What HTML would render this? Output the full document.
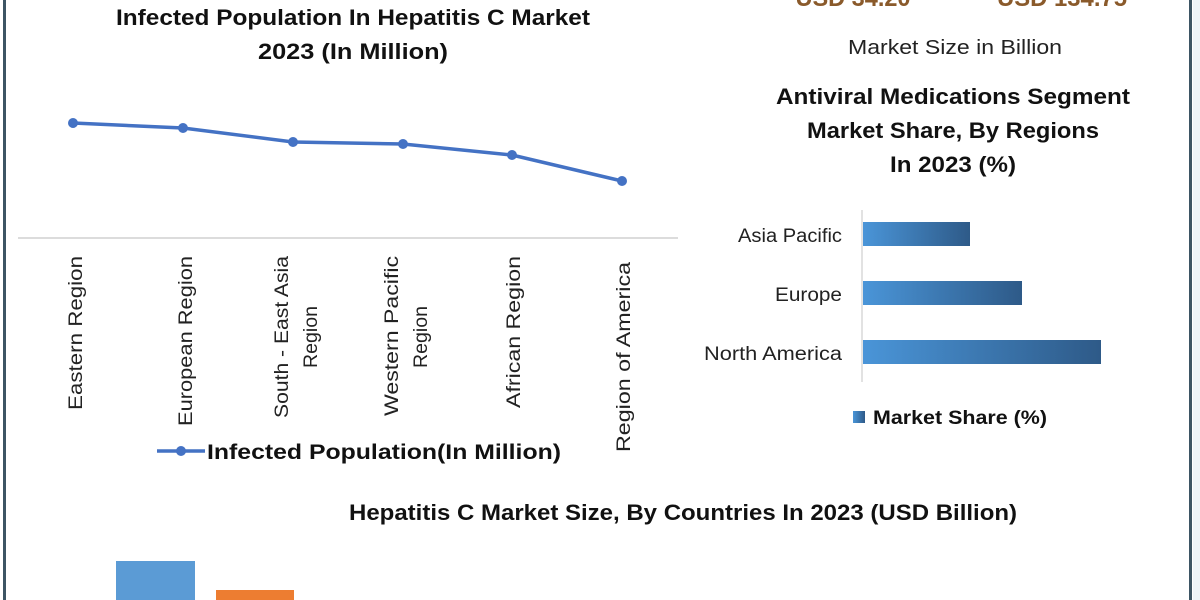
<!DOCTYPE html>
<html><head><meta charset="utf-8"><style>
html,body{margin:0;padding:0;background:#fff;}
svg{display:block;}
text{font-family:"Liberation Sans",sans-serif;}
</style></head><body>
<svg width="1200" height="600" viewBox="0 0 1200 600" xmlns="http://www.w3.org/2000/svg">
<defs>
<linearGradient id="bg" x1="0" x2="1" y1="0" y2="0">
<stop offset="0" stop-color="#4a95d8"/><stop offset="1" stop-color="#2e5a88"/>
</linearGradient>
</defs>
<rect width="1200" height="600" fill="#fff"/>
<rect x="1193" y="0" width="7" height="600" fill="#eef4f8"/>
<rect x="3" y="0" width="3" height="600" fill="#3d5564"/>
<rect x="1189" y="0" width="3" height="600" fill="#3d5564"/>

<g lengthAdjust="spacingAndGlyphs">
<text x="853" y="6" font-size="24" font-weight="bold" fill="#8a5a2b" text-anchor="middle" textLength="115" lengthAdjust="spacingAndGlyphs">USD 34.20</text>
<text x="1062" y="6" font-size="24" font-weight="bold" fill="#8a5a2b" text-anchor="middle" textLength="130" lengthAdjust="spacingAndGlyphs">USD 134.75</text>
<text x="955" y="54" font-size="20" fill="#222" text-anchor="middle" textLength="214" lengthAdjust="spacingAndGlyphs">Market Size in Billion</text>

<text x="353" y="25" font-size="22" font-weight="bold" fill="#111" text-anchor="middle" textLength="474" lengthAdjust="spacingAndGlyphs">Infected Population In Hepatitis C Market</text>
<text x="353" y="59" font-size="22" font-weight="bold" fill="#111" text-anchor="middle" textLength="190" lengthAdjust="spacingAndGlyphs">2023 (In Million)</text>
</g>
<line x1="18" y1="238" x2="678" y2="238" stroke="#d0d0d0" stroke-width="1.5"/>
<polyline points="73,123 183,128 293,142 403,144 512,155 622,181" fill="none" stroke="#4472c4" stroke-width="3.5"/>
<g fill="#4472c4">
<circle cx="73" cy="123" r="5"/><circle cx="183" cy="128" r="5"/><circle cx="293" cy="142" r="5"/>
<circle cx="403" cy="144" r="5"/><circle cx="512" cy="155" r="5"/><circle cx="622" cy="181" r="5"/>
</g>
<g font-size="19" fill="#222" text-anchor="end">
<text transform="translate(82,256) rotate(-90)" textLength="154" lengthAdjust="spacingAndGlyphs">Eastern Region</text>
<text transform="translate(192,256) rotate(-90)" textLength="170" lengthAdjust="spacingAndGlyphs">European Region</text>
<text transform="translate(288,256) rotate(-90)" textLength="162" lengthAdjust="spacingAndGlyphs">South - East Asia</text>
<text transform="translate(317,337) rotate(-90)" text-anchor="middle" textLength="62" lengthAdjust="spacingAndGlyphs">Region</text>
<text transform="translate(398,256) rotate(-90)" textLength="160" lengthAdjust="spacingAndGlyphs">Western Pacific</text>
<text transform="translate(427,337) rotate(-90)" text-anchor="middle" textLength="62" lengthAdjust="spacingAndGlyphs">Region</text>
<text transform="translate(520,256) rotate(-90)" textLength="152" lengthAdjust="spacingAndGlyphs">African Region</text>
<text transform="translate(630,262) rotate(-90)" textLength="190" lengthAdjust="spacingAndGlyphs">Region of America</text>
</g>
<line x1="157" y1="451" x2="205" y2="451" stroke="#4472c4" stroke-width="3.5"/>
<circle cx="181" cy="451" r="5" fill="#4472c4"/>
<text x="207" y="459" font-size="21" font-weight="bold" fill="#111" textLength="354" lengthAdjust="spacingAndGlyphs">Infected Population(In Million)</text>

<text x="953" y="104" font-size="22" font-weight="bold" fill="#111" text-anchor="middle" textLength="354" lengthAdjust="spacingAndGlyphs">Antiviral Medications Segment</text>
<text x="953" y="138" font-size="22" font-weight="bold" fill="#111" text-anchor="middle" textLength="292" lengthAdjust="spacingAndGlyphs">Market Share, By Regions</text>
<text x="953" y="172" font-size="22" font-weight="bold" fill="#111" text-anchor="middle" textLength="126" lengthAdjust="spacingAndGlyphs">In 2023 (%)</text>
<line x1="862" y1="210" x2="862" y2="382" stroke="#d8d8d8" stroke-width="1.5"/>
<rect x="863" y="222" width="107" height="24" fill="url(#bg)"/>
<rect x="863" y="281" width="159" height="24" fill="url(#bg)"/>
<rect x="863" y="340" width="238" height="24" fill="url(#bg)"/>
<g font-size="19" fill="#222" text-anchor="end">
<text x="842" y="242" textLength="104" lengthAdjust="spacingAndGlyphs">Asia Pacific</text>
<text x="842" y="301" textLength="67" lengthAdjust="spacingAndGlyphs">Europe</text>
<text x="842" y="360" textLength="138" lengthAdjust="spacingAndGlyphs">North America</text>
</g>
<rect x="853" y="411" width="12" height="12" fill="url(#bg)"/>
<text x="873" y="424" font-size="19" font-weight="bold" fill="#111" textLength="174" lengthAdjust="spacingAndGlyphs">Market Share (%)</text>

<text x="683" y="520" font-size="22" font-weight="bold" fill="#111" text-anchor="middle" textLength="668" lengthAdjust="spacingAndGlyphs">Hepatitis C Market Size, By Countries In 2023 (USD Billion)</text>
<rect x="116" y="561" width="79" height="39" fill="#5b9bd5"/>
<rect x="216" y="590" width="78" height="10" fill="#ed7d31"/>
</svg>
</body></html>
